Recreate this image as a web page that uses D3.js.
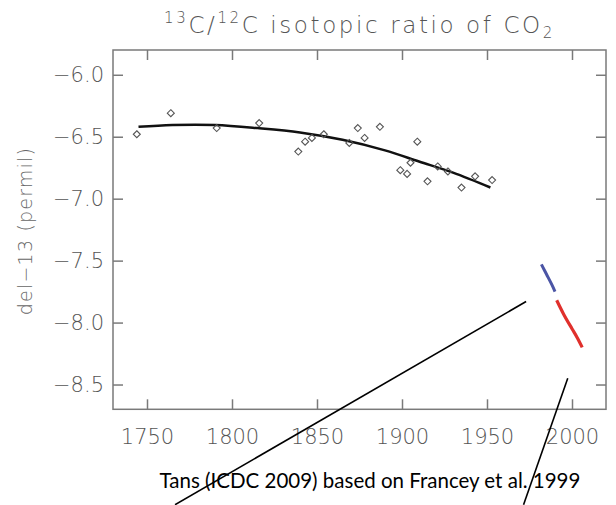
<!DOCTYPE html>
<html>
<head>
<meta charset="utf-8">
<script src="https://cdn.jsdelivr.net/npm/d3@7"></script>
<style>
  body { margin: 0; background: #fff; }
  svg { display: block; }
</style>
</head>
<body>
<div id="chart"></div>
<script>
// ice core / firn data (Francey et al. 1999)
var coreYears  = [1744, 1764, 1791, 1816, 1839, 1843, 1847, 1854, 1869, 1874, 1878, 1887,
                  1899, 1903, 1905, 1909, 1915, 1921, 1927, 1935, 1943, 1953];
var coreValues = [-6.48, -6.31, -6.43, -6.39, -6.62, -6.54, -6.51, -6.48, -6.55, -6.43, -6.51, -6.42,
                  -6.77, -6.80, -6.71, -6.54, -6.86, -6.74, -6.78, -6.91, -6.82, -6.85];

// smooth fit through the core data
var fitYears  = [1745, 1765, 1790, 1815, 1840, 1865, 1890, 1910, 1930, 1952];
var fitValues = [-6.42, -6.405, -6.405, -6.43, -6.465, -6.525, -6.61, -6.70, -6.79, -6.91];

// atmospheric records
var blueYears  = [1982, 1985, 1988, 1990];
var blueValues = [-7.53, -7.61, -7.69, -7.75];
var redYears   = [1991, 1995, 2000, 2003, 2006];
var redValues  = [-7.82, -7.93, -8.05, -8.12, -8.20];

// two pointer lines drawn over the figure (year, value at each end)
var pointerA = [[1973, -7.83], [1766.5, -9.47]];
var pointerB = [[1997.5, -8.45], [1971.5, -9.47]];

var xTicks = [1750, 1800, 1850, 1900, 1950, 2000];
var yTicks = [-6.0, -6.5, -7.0, -7.5, -8.0, -8.5];

var titleParts = ["13", "C/", "12", "C isotopic ratio of CO", "2"];
var yTitle = "del\u221213 (permil)";
var credit = "Tans (ICDC 2009) based on Francey et al. 1999";

var W = 616, H = 505;
var margin = {top: 50, left: 113, right: 10, bottom: 95.7};
var width = W - margin.left - margin.right;
var height = H - margin.top - margin.bottom;

var axisGrey = '#7a7a7a';
var textGrey = '#555';
var idlFont = '"DejaVu Sans", sans-serif';

var svg = d3.select('#chart').append('svg')
    .attr('width', W)
    .attr('height', H);

var g = svg.append('g')
    .attr('transform', 'translate(' + margin.left + ',' + margin.top + ')');

var x = d3.scaleLinear().domain([1730, 2020]).range([0, width]);
var y = d3.scaleLinear().domain([-8.7, -5.8]).range([height, 0]);

// axes, ticks point inward on all four sides
function styleAxis(sel) {
    sel.select('.domain').remove();
    sel.selectAll('line').attr('stroke', axisGrey).attr('stroke-width', 1.5);
    sel.selectAll('text')
        .attr('fill', textGrey)
        .style('font-family', idlFont)
        .style('font-weight', 200)
        .style('font-size', '21px');
}

g.append('g')
    .attr('transform', 'translate(0,' + height + ')')
    .call(d3.axisBottom(x).tickValues(xTicks).tickFormat(d3.format('d'))
        .tickSizeInner(-10).tickSizeOuter(0).tickPadding(20))
    .call(styleAxis);

g.append('g')
    .call(d3.axisTop(x).tickValues(xTicks).tickSizeInner(-10).tickSizeOuter(0).tickFormat(''))
    .call(styleAxis);

g.append('g')
    .call(d3.axisLeft(y).tickValues(yTicks).tickFormat(d3.format('.1f'))
        .tickSizeInner(-10).tickSizeOuter(0).tickPadding(9))
    .call(styleAxis);

g.append('g')
    .attr('transform', 'translate(' + width + ',0)')
    .call(d3.axisRight(y).tickValues(yTicks).tickSizeInner(-10).tickSizeOuter(0).tickFormat(''))
    .call(styleAxis);

g.append('rect')
    .attr('width', width)
    .attr('height', height)
    .attr('fill', 'none')
    .attr('stroke', axisGrey)
    .attr('stroke-width', 1.5);

// fit line
var line = d3.line()
    .x(d => x(d[0]))
    .y(d => y(d[1]))
    .curve(d3.curveCatmullRom);

g.append('path')
    .datum(d3.zip(fitYears, fitValues))
    .attr('fill', 'none')
    .attr('stroke', '#111')
    .attr('stroke-width', 2.5)
    .attr('d', line);

// diamonds
g.selectAll('.pt')
    .data(d3.zip(coreYears, coreValues))
    .enter().append('path')
    .attr('class', 'pt')
    .attr('transform', d => 'translate(' + x(d[0]) + ',' + y(d[1]) + ')')
    .attr('d', 'M0,-3.5L3.5,0L0,3.5L-3.5,0Z')
    .attr('fill', 'none')
    .attr('stroke', '#555')
    .attr('stroke-width', 1.1);

g.append('path')
    .datum(d3.zip(blueYears, blueValues))
    .attr('fill', 'none')
    .attr('stroke', '#4b55a5')
    .attr('stroke-width', 3)
    .attr('d', line);

g.append('path')
    .datum(d3.zip(redYears, redValues))
    .attr('fill', 'none')
    .attr('stroke', '#e0302c')
    .attr('stroke-width', 3.2)
    .attr('d', line);

// title
var title = svg.append('text')
    .attr('x', margin.left + width / 2)
    .attr('y', 33)
    .attr('text-anchor', 'middle')
    .attr('fill', textGrey)
    .style('font-family', idlFont)
    .style('font-weight', 200)
    .style('font-size', '23px')
    .style('letter-spacing', '2.6px');
title.append('tspan').attr('dy', -10).style('font-size', '15px').text(titleParts[0]);
title.append('tspan').attr('dy', 10).text(titleParts[1]);
title.append('tspan').attr('dy', -10).style('font-size', '15px').text(titleParts[2]);
title.append('tspan').attr('dy', 10).text(titleParts[3]);
title.append('tspan').attr('dy', 5).style('font-size', '15px').text(titleParts[4]);

// y axis title
svg.append('text')
    .attr('transform', 'translate(32,231) rotate(-90)')
    .attr('text-anchor', 'middle')
    .attr('fill', '#666')
    .style('font-family', idlFont)
    .style('font-weight', 200)
    .style('font-size', '19px')
    .style('letter-spacing', '1.2px')
    .text(yTitle);

// credit line
svg.append('text')
    .attr('x', 370)
    .attr('y', 488)
    .attr('text-anchor', 'middle')
    .attr('fill', '#000')
    .style('font-family', 'Lato, "Open Sans", sans-serif')
    .style('font-size', '20.5px')
    .text(credit);

// pointer lines, over everything
[pointerA, pointerB].forEach(function(p) {
    g.append('path')
        .datum(p)
        .attr('fill', 'none')
        .attr('stroke', '#000')
        .attr('stroke-width', 1.6)
        .attr('d', d3.line().x(d => x(d[0])).y(d => y(d[1])));
});
</script>
</body>
</html>
